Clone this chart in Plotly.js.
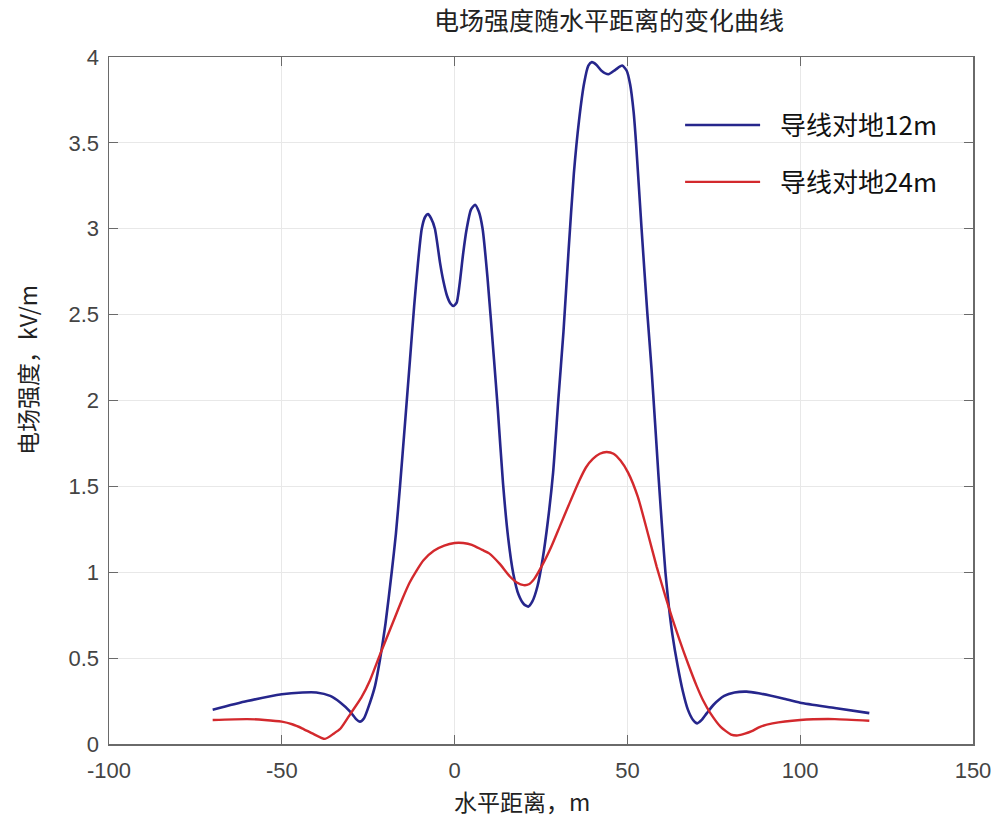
<!DOCTYPE html>
<html>
<head>
<meta charset="utf-8">
<script src="https://cdn.plot.ly/plotly-3.0.1.min.js"></script>
<style>
  html, body { margin: 0; padding: 0; background: #fff; }
  #chart { width: 998px; height: 821px; }
</style>
</head>
<body>
<div id="chart"></div>
<script>
// Horizontal distance from the line centre (m), conductors 12 m above ground
const dist12 = [-70, -60, -50, -44, -40, -36, -33, -30.3, -28.5, -27.4, -26.2, -24.5, -23, -21.6, -20, -18.2,
  -17, -15.8, -14.3, -12.9, -11.7, -10.6, -9.5, -8.5, -7.7, -6.8, -5.7, -4.2, -3.3, -2.2, -1.2, -0.3, 0.6,
  1.4, 2.5, 3.5, 4.7, 5.9, 7, 8.1, 9.5, 11.4, 12.5, 14, 15.5, 17, 18.5, 20, 21.3, 22.5, 24,
  25.5, 27, 28.5, 30, 31.5, 33, 34.5, 36, 37.5, 38.7, 39.7, 41, 42.5, 44.5, 46.5, 48.5, 49.8, 50.8,
  51.8, 52.5, 54.1, 55.8, 57, 59, 60, 61, 62, 63, 64.5, 66, 67.5, 69, 70.2, 71.5, 73, 75,
  78, 81, 84.5, 88, 95, 100, 110, 120];
// Electric field strength (kV/m), conductors 12 m above ground
const field12 = [0.20, 0.25, 0.29, 0.30, 0.30, 0.28, 0.24, 0.19, 0.145, 0.13, 0.15, 0.24, 0.34, 0.49, 0.70, 1.00,
  1.22, 1.50, 1.88, 2.24, 2.55, 2.80, 3.00, 3.07, 3.085, 3.06, 3.00, 2.80, 2.70, 2.61, 2.565, 2.55, 2.57,
  2.67, 2.86, 3.00, 3.11, 3.14, 3.10, 3.00, 2.72, 2.24, 1.95, 1.52, 1.20, 0.99, 0.87, 0.815, 0.80, 0.83, 0.92,
  1.08, 1.30, 1.58, 2.00, 2.40, 2.88, 3.32, 3.63, 3.85, 3.95, 3.97, 3.955, 3.92, 3.90, 3.925, 3.95, 3.92, 3.84,
  3.68, 3.50, 3.00, 2.50, 2.18, 1.56, 1.27, 1.00, 0.80, 0.64, 0.46, 0.31, 0.20, 0.14, 0.12, 0.14, 0.18, 0.23,
  0.28, 0.30, 0.305, 0.295, 0.265, 0.24, 0.21, 0.18];

// Horizontal distance (m) and field strength (kV/m), conductors 24 m above ground
const dist24 = [-70, -60, -55, -50, -47, -44, -41, -37.5, -35, -33, -30, -27, -24.5, -21.6, -18, -15,
  -13, -11, -9, -6, -3, 0, 2.5, 5, 8, 10, 13, 16, 18, 20, 21.5, 23, 25.6, 28, 30.5, 33, 36, 38, 40,
  42, 44, 46, 48, 50.2, 53, 56, 58.5, 61, 63, 65, 67.5, 70, 72, 74, 77, 80, 82, 84, 86, 88.4,
  92, 100, 110, 120];
const field24 = [0.14, 0.145, 0.14, 0.13, 0.115, 0.09, 0.06, 0.03, 0.06, 0.09, 0.18, 0.27, 0.37, 0.52, 0.70, 0.85,
  0.94, 1.01, 1.07, 1.125, 1.155, 1.17, 1.17, 1.16, 1.13, 1.11, 1.05, 0.975, 0.94, 0.925, 0.93, 0.96, 1.05, 1.15, 1.27, 1.39, 1.53, 1.61, 1.66,
  1.69, 1.70, 1.69, 1.65, 1.58, 1.44, 1.22, 1.03, 0.86, 0.73, 0.61, 0.47, 0.34, 0.25, 0.18, 0.10, 0.055, 0.05, 0.06, 0.075, 0.10,
  0.12, 0.14, 0.145, 0.135];

const seriesNames = ['导线对地12m', '导线对地24m'];
const chartTitle = '电场强度随水平距离的变化曲线';
const xTitle = '水平距离，m';
const yTitle = '电场强度，kV/m';
const xTickVals = [-100, -50, 0, 50, 100, 150];
const xTickText = ['-100', '-50', '0', '50', '100', '150'];

const cjk = '"Noto Sans CJK SC", "Noto Sans", sans-serif';
const num = '"Liberation Sans", Arial, sans-serif';

const traces = [
  {
    x: dist12, y: field12, type: 'scatter', mode: 'lines', name: seriesNames[0],
    legendgroup: 'a',
    line: { color: '#26268c', width: 2.6, shape: 'spline', smoothing: 0.6 }
  },
  {
    x: dist24, y: field24, type: 'scatter', mode: 'lines', name: seriesNames[1],
    legendgroup: 'b',
    line: { color: '#d3292d', width: 2.4, shape: 'spline', smoothing: 0.6 }
  }
];

const axisCommon = {
  showline: true, linecolor: '#6a6a6a', linewidth: 1.5, mirror: 'ticks',
  ticks: 'inside', ticklen: 9, tickcolor: '#6a6a6a', tickwidth: 1.2,
  showgrid: true, gridcolor: '#e8e8e8', gridwidth: 1,
  zeroline: false,
  tickfont: { family: num, size: 22, color: '#444' }
};

const layout = {
  width: 998, height: 821,
  paper_bgcolor: '#fff', plot_bgcolor: '#fff',
  margin: { l: 109, r: 25, t: 57, b: 77 },
  title: {
    text: chartTitle, x: 609 / 998, xanchor: 'center', xref: 'container',
    y: 1 - 21 / 821, yanchor: 'middle', yref: 'container',
    font: { family: cjk, size: 25, color: '#222' }
  },
  xaxis: Object.assign({}, axisCommon, {
    range: [-100, 150], tickmode: 'array', tickvals: xTickVals, ticktext: xTickText,
    ticklabelstandoff: 6
  }),
  yaxis: Object.assign({}, axisCommon, { range: [0, 4], dtick: 0.5, tick0: 0, ticklabelstandoff: 4 }),
  showlegend: true,
  legend: {
    x: 0.661, y: 0.935, xanchor: 'left', yanchor: 'top',
    bgcolor: 'rgba(0,0,0,0)', borderwidth: 0,
    font: { family: cjk, size: 26, color: '#111' },
    tracegroupgap: 20, itemwidth: 90
  },
  annotations: [
    {
      text: xTitle, xref: 'paper', yref: 'paper',
      x: (522 - 109) / 864, y: -(801 - 744) / 687, xanchor: 'center', yanchor: 'middle',
      showarrow: false, font: { family: cjk, size: 23, color: '#222' }
    },
    {
      text: yTitle, xref: 'paper', yref: 'paper', textangle: -90,
      x: -(109 - 27) / 864, y: (744 - 370) / 687, xanchor: 'center', yanchor: 'middle',
      showarrow: false, font: { family: cjk, size: 23, color: '#222' }
    }
  ]
};

Plotly.newPlot('chart', traces, layout, { staticPlot: true }).then(function (gd) {
  // lengthen the legend sample lines
  gd.querySelectorAll('.legend .legendlines path').forEach(function (p) {
    p.setAttribute('d', 'M5,0h75');
  });
});
</script>
</body>
</html>
